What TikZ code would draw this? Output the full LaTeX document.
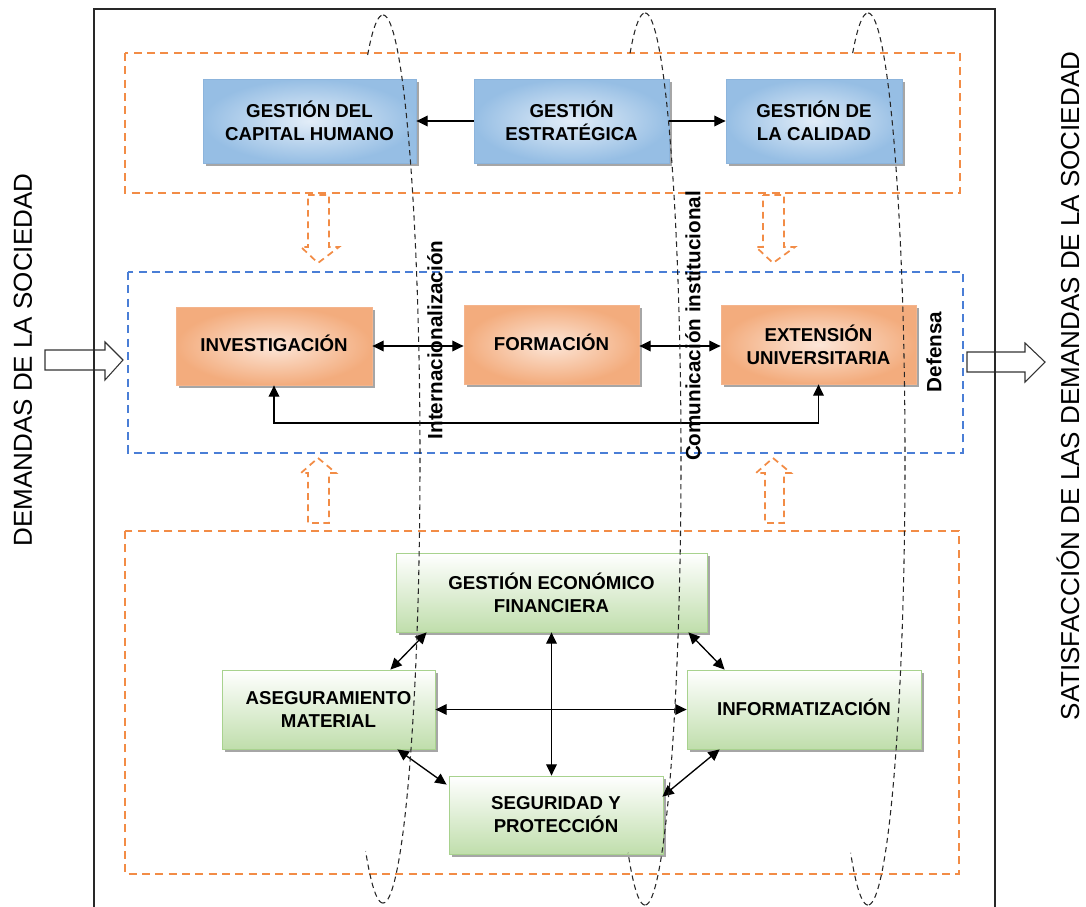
\documentclass[tikz,border=0pt]{standalone}
\usepackage{fontspec}
\setmainfont{Liberation Sans}
\usetikzlibrary{arrows.meta,shadows,calc}
\definecolor{bluedk}{RGB}{150,190,228}
\definecolor{bluelt}{RGB}{226,237,248}
\definecolor{bluebd}{RGB}{140,180,220}
\definecolor{ordk}{RGB}{243,172,125}
\definecolor{orlt}{RGB}{252,230,216}
\definecolor{orbd}{RGB}{244,180,140}
\definecolor{grdk}{RGB}{192,222,172}
\definecolor{grbd}{RGB}{168,210,142}
\definecolor{ordash}{RGB}{242,140,70}
\definecolor{bldash}{RGB}{74,126,214}
\definecolor{framec}{RGB}{40,40,40}
\begin{document}
\begin{tikzpicture}[x=0.75pt,y=-0.75pt,
  box/.style={draw, line width=0.6pt, align=center, inner sep=0pt,
    font=\bfseries\fontsize{14}{17.25}\selectfont,
    drop shadow={shadow xshift=2pt, shadow yshift=-2pt, fill=black, opacity=0.35}},
  bluebox/.style={box, draw=bluebd, inner color=bluelt, outer color=bluedk},
  orbox/.style={box, draw=orbd, inner color=orlt, outer color=ordk},
  grbox/.style={box, draw=grbd, top color=white, bottom color=grdk},
  conn/.style={line width=1pt, -{Triangle[length=8.5pt,width=8pt]}},
  conn2/.style={line width=1pt, {Triangle[length=8.5pt,width=8pt]}-{Triangle[length=8.5pt,width=8pt]}},
  ordashed/.style={draw=ordash, line width=1.2pt, dash pattern=on 6pt off 4pt},
  bldashed/.style={draw=bldash, line width=1.2pt, dash pattern=on 6pt off 4pt},
  blockarr/.style={draw=ordash, line width=1.3pt, dash pattern=on 5pt off 3.5pt, line join=miter},
  hollow/.style={draw=black!80, fill=white, line width=0.8pt},
  ell/.style={draw=black!85, line width=0.8pt, dash pattern=on 4pt off 3pt},
  lab/.style={font=\bfseries\fontsize{15.5}{18}\selectfont, rotate=90, inner sep=0pt},
  side/.style={font=\fontsize{19.5}{22}\selectfont, rotate=90, inner sep=0pt}
]
\useasboundingbox (0,0) rectangle (1086,907);

% side hollow arrows (under the frame)
\draw[hollow] (45,350) -- (105,350) -- (105,342) -- (123,360) -- (105,380) -- (105,370) -- (45,370) -- cycle;
\draw[hollow] (967,352) -- (1025,352) -- (1025,343) -- (1045,362) -- (1025,382) -- (1025,372) -- (967,372) -- cycle;

% frame
\draw[framec, line width=1.1pt] (94,907) -- (94,9) -- (995,9) -- (995,907);

% side texts
\node[side] (dem) at (23,360) {DEMANDAS DE LA SOCIEDAD};
\node[side] (sat) at (1068,386) {SATISFACCIÓN DE LAS DEMANDAS DE LA SOCIEDAD};

% dashed containers
\draw[ordashed] (125,53) rectangle (960,193);
\draw[bldashed] (128,272) rectangle (963,453);
\draw[ordashed] (125,531) rectangle (959,874);

% orange dashed block arrows
\draw[blockarr] (308,195) -- (329,195) -- (329,247) -- (339,247) -- (318,263) -- (301,247) -- (308,247) -- cycle;
\draw[blockarr] (763,195) -- (784,195) -- (784,247) -- (795,247) -- (773,263) -- (756,247) -- (763,247) -- cycle;
\draw[blockarr] (318,458) -- (336,473) -- (329,473) -- (329,523) -- (308,523) -- (308,473) -- (301,473) -- cycle;
\draw[blockarr] (773,458) -- (791,473) -- (784,473) -- (784,523) -- (765,523) -- (765,473) -- (756,473) -- cycle;

% top row
\node[bluebox, minimum width=159.75pt, minimum height=63pt] (ch) at (309.5,121) {GESTIÓN DEL\\CAPITAL HUMANO};
\node[bluebox, minimum width=146.25pt, minimum height=63pt] (ge) at (571.5,121) {GESTIÓN\\ESTRATÉGICA};
\node[bluebox, minimum width=132pt, minimum height=63pt] (gc) at (814,121) {GESTIÓN DE\\LA CALIDAD};

% middle row
\node[orbox, minimum width=147pt, minimum height=58.5pt] (inv) at (274,346) {\raisebox{4pt}{INVESTIGACIÓN}};
\node[orbox, minimum width=131.25pt, minimum height=59.25pt] (form) at (551.5,344.5) {\raisebox{4pt}{FORMACIÓN}};
\node[orbox, minimum width=146.25pt, minimum height=59.25pt] (ext) at (818.5,344.5) {EXTENSIÓN\\UNIVERSITARIA};

% bottom group
\node[grbox, minimum width=233.25pt, minimum height=59.25pt] (gef) at (551.5,592.5) {GESTIÓN ECONÓMICO\\FINANCIERA};
\node[grbox, minimum width=159.75pt, minimum height=59.25pt] (am) at (328.5,709.5) {ASEGURAMIENTO\\MATERIAL};
\node[grbox, minimum width=175.5pt, minimum height=59.25pt] (inf) at (804,709.5) {\raisebox{4pt}{INFORMATIZACIÓN}};
\node[grbox, minimum width=160.5pt, minimum height=58.5pt] (sp) at (556,815) {SEGURIDAD Y\\PROTECCIÓN};

% connectors
\draw[conn] (ge.west) -- (ch.east);
\draw[conn] (ge.east) -- (gc.west);
\draw[conn2] (inv.east) -- (inv.east -| form.west);
\draw[conn2] (inv.east -| form.east) -- (inv.east -| ext.west);
\coordinate (loopy) at (0,423);
\draw[conn2] (inv.south) -- (inv.south |- loopy) -| (ext.south);

\draw[conn2] (gef.south) -- (gef.south |- sp.north);
\draw[conn2] (am.east) -- (inf.west);
\draw[conn2] ($(gef.south west)+(31,0)$) -- ($(am.north east)+(-45,0)$);
\draw[conn2] ($(gef.south east)+(-19,0)$) -- ($(inf.north west)+(38,0)$);
\draw[conn2] ($(am.south east)+(-38,0)$) -- ($(sp.north west)+(-2,9)$);
\draw[conn2] ($(inf.south west)+(33,0)$) -- ($(sp.north east)+(-1,21)$);

% dashed ellipses (rings): right half in front, left half only outside the panel
\foreach \cx/\rx/\ry in {383/37/444, 645/36/446, 868/37/446}{
  \draw[ell] plot[domain=-90:90, samples=120, smooth] ({\cx + \rx*cos(\x)}, {459 + \ry*sin(\x)});
  \draw[ell] plot[domain=-114.5:-90, samples=30, smooth] ({\cx + \rx*cos(\x)}, {459 + \ry*sin(\x)});
  \draw[ell] plot[domain=90:118, samples=30, smooth] ({\cx + \rx*cos(\x)}, {459 + \ry*sin(\x)});
}

% ring labels
\node[lab] (intl) at (435,340) {Internacionalización};
\node[lab] (com) at (693,326) {Comunicación institucional};
\node[lab] (def) at (934,352) {Defensa};
\end{tikzpicture}
\end{document}
